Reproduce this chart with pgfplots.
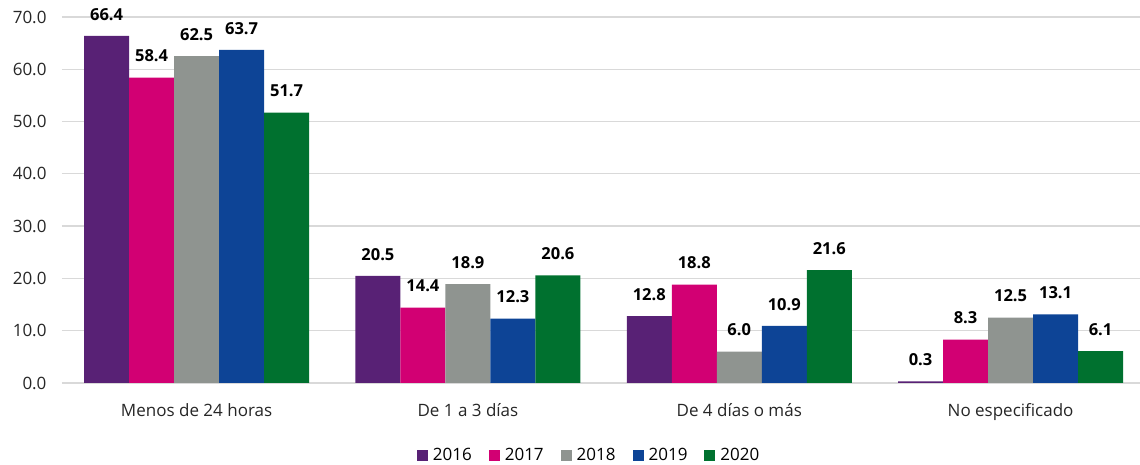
\documentclass[border=0pt]{standalone}
\usepackage{pgfplots}
\pgfplotsset{compat=1.18}
\usepackage{fontspec}
\setmainfont{Open Sans}
\definecolor{c16}{HTML}{582175}
\definecolor{c17}{HTML}{D20073}
\definecolor{c18}{HTML}{8F9490}
\definecolor{c19}{HTML}{0D4496}
\definecolor{c20}{HTML}{00712F}
\definecolor{gridc}{HTML}{D9D9D9}
\begin{document}
\begin{tikzpicture}
\begin{axis}[
  scale only axis, width=1078pt, height=366pt,
  xmin=-0.496, xmax=3.477, ymin=0, ymax=70,
  ybar=0pt, bar width=45pt,
  axis line style={draw=none}, tick style={draw=none},
  ymajorgrids, grid style={draw=gridc, line width=1.3pt},
  ytick={0,10,...,70},
  xtick={0,1,2,3},
  xticklabels={Menos de 24 horas, De 1 a 3 días, De 4 días o más, No especificado},
  tick label style={font=\fontsize{17}{20}\selectfont, text=black!85},
  yticklabel style={xshift=-12pt},
  xticklabel style={yshift=-13pt},
  /pgf/number format/.cd, fixed, fixed zerofill, precision=1, assume math mode=true,
  /pgfplots/.cd,
  nodes near coords,
  every node near coord/.append style={font=\bfseries\fontsize{16.5}{19}\selectfont, text=black, yshift=12pt},
  legend style={at={(0.489,-0.197)}, anchor=center, draw=none, legend columns=5,
    font=\fontsize{17}{20}\selectfont, column sep=3pt,
    /tikz/every even column/.append style={column sep=15pt}},
  legend image code/.code={\fill[#1] (0pt,-5.5pt) rectangle (11pt,5.5pt);},
]
\addplot[fill=c16, draw=none] coordinates {(0,66.4) (1,20.5) (2,12.8) (3,0.3)};
\addplot[fill=c17, draw=none] coordinates {(0,58.4) (1,14.4) (2,18.8) (3,8.3)};
\addplot[fill=c18, draw=none] coordinates {(0,62.5) (1,18.9) (2,6.0) (3,12.5)};
\addplot[fill=c19, draw=none] coordinates {(0,63.7) (1,12.3) (2,10.9) (3,13.1)};
\addplot[fill=c20, draw=none] coordinates {(0,51.7) (1,20.6) (2,21.6) (3,6.1)};
\legend{2016,2017,2018,2019,2020}
\coordinate (ll) at (rel axis cs:0,0);
\coordinate (ur) at (rel axis cs:1,1);
\end{axis}
\pgfresetboundingbox
\path[use as bounding box] ([xshift=-62pt,yshift=-82pt]ll) rectangle ([yshift=17pt]ur);
\end{tikzpicture}
\end{document}
